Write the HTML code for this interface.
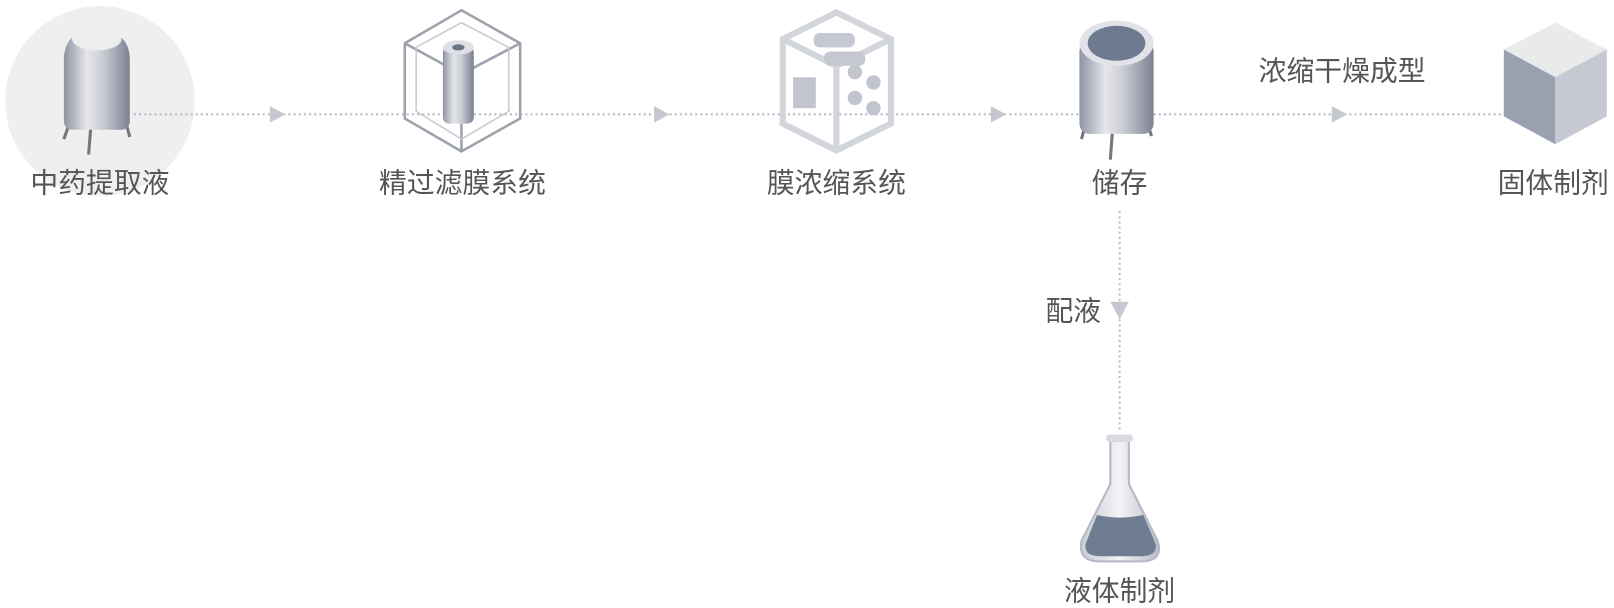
<!DOCTYPE html>
<html><head><meta charset="utf-8"><style>
body{margin:0;width:1614px;height:606px;background:#fff;overflow:hidden;position:relative;font-family:"Liberation Sans","Noto Sans CJK SC",sans-serif;color:#555}
#w{position:absolute;left:0;top:0;width:1568px;height:590px;transform:scale(1.03);transform-origin:0 0}
.l{position:absolute;font-size:27px;white-space:nowrap;transform:translateX(-50%);line-height:1}
</style></head><body><div id="w">
<svg width="1568" height="590" style="position:absolute;left:0;top:0">
<defs>
<linearGradient id="m" x1="0" x2="1"><stop offset="0" stop-color="#8e93a2"/><stop offset=".35" stop-color="#e6e7ec"/><stop offset=".6" stop-color="#c9cbd3"/><stop offset="1" stop-color="#7c8192"/></linearGradient>
<linearGradient id="f" x1="0" x2="1"><stop offset="0" stop-color="#c9ccd5"/><stop offset=".5" stop-color="#f2f3f5"/><stop offset="1" stop-color="#b9bcc7"/></linearGradient>
</defs>
<circle cx="97" cy="98" r="92" fill="#efefef"/>
<g stroke="#b8bcc6" stroke-width="2" stroke-dasharray="2 3">
<line x1="130" y1="111" x2="1500" y2="111"/>
<line x1="1087" y1="205" x2="1087" y2="420"/>
</g>
<g fill="#c5c8d0">
<polygon points="262,103 277,111 262,119"/><polygon points="635,103 650,111 635,119"/>
<polygon points="962,103 977,111 962,119"/><polygon points="1293,103 1308,111 1293,119"/>
<polygon points="1078,293 1096,293 1087,310"/>
</g>
<!-- tank 1 -->
<g><line x1="68" y1="118" x2="62" y2="135" stroke="#777" stroke-width="3"/><line x1="88" y1="125" x2="86" y2="150" stroke="#777" stroke-width="3"/><line x1="122" y1="118" x2="126" y2="133" stroke="#777" stroke-width="3"/>
<rect x="62" y="50" width="64" height="76" rx="8" fill="url(#m)"/>
<path d="M62,58 Q62,30 94,28 Q126,30 126,58 Z" fill="url(#m)"/>
<ellipse cx="94" cy="38" rx="24" ry="11" fill="#ededf0"/></g>
<!-- filter cube -->
<g fill="none" stroke="#9ea2ad" stroke-width="2.5"><polygon points="448,10 505,42 505,115 448,147 393,115 393,42"/><polyline points="393,42 448,72 505,42"/><line x1="448" y1="72" x2="448" y2="147"/>
<polygon points="448,22 494,46 494,108 448,135 404,108 404,46" stroke="#c7cad2" stroke-width="1.5"/></g>
<rect x="430" y="45" width="30" height="75" rx="6" fill="url(#m)"/><ellipse cx="445" cy="46" rx="15" ry="7" fill="#dfe1e6"/><ellipse cx="445" cy="46" rx="6" ry="3" fill="#6b7386"/>
<!-- membrane frame -->
<g fill="none" stroke="#d2d5dc" stroke-width="6"><polygon points="812,12 865,38 865,120 812,146 760,120 760,38"/><polyline points="760,38 812,64 865,38"/><line x1="812" y1="64" x2="812" y2="146"/></g>
<rect x="790" y="32" width="40" height="14" rx="6" fill="#c5c8d0"/><rect x="800" y="50" width="40" height="14" rx="6" fill="#c5c8d0"/>
<rect x="770" y="75" width="22" height="30" fill="#c2c5cd"/>
<g fill="#c2c5cd"><circle cx="830" cy="70" r="7"/><circle cx="848" cy="80" r="7"/><circle cx="830" cy="95" r="7"/><circle cx="848" cy="105" r="7"/></g>
<!-- storage tank -->
<g><line x1="1054" y1="120" x2="1050" y2="135" stroke="#777" stroke-width="3"/><line x1="1080" y1="128" x2="1078" y2="155" stroke="#777" stroke-width="3"/><line x1="1114" y1="120" x2="1118" y2="132" stroke="#777" stroke-width="3"/>
<rect x="1048" y="40" width="72" height="90" rx="10" fill="url(#m)"/>
<ellipse cx="1084" cy="42" rx="36" ry="22" fill="#e1e3e8"/><ellipse cx="1084" cy="42" rx="28" ry="17" fill="#6e7a90"/></g>
<!-- solid cube -->
<polygon points="1510,22 1560,48 1510,75 1460,48" fill="#e9eaec"/><polygon points="1460,48 1510,75 1510,140 1460,113" fill="#99a0b0"/><polygon points="1510,75 1560,48 1560,113 1510,140" fill="#c6c9d1"/>
<!-- flask -->
<path d="M1078,428 L1078,470 L1050,525 Q1046,545 1068,545 L1108,545 Q1130,545 1124,525 L1096,470 L1096,428 Z" fill="url(#f)" stroke="#b5b9c3" stroke-width="2"/>
<path d="M1065,500 Q1087,505 1110,500 L1122,528 Q1124,540 1108,540 L1068,540 Q1052,540 1054,528 Z" fill="#6f7d92"/>
<rect x="1074" y="422" width="26" height="7" rx="3" fill="#d9dbe0"/>
</svg>
<div class="l" style="left:97px;top:165px">中药提取液</div>
<div class="l" style="left:449px;top:165px">精过滤膜系统</div>
<div class="l" style="left:812px;top:165px">膜浓缩系统</div>
<div class="l" style="left:1087px;top:165px">储存</div>
<div class="l" style="left:1508px;top:165px">固体制剂</div>
<div class="l" style="left:1303px;top:56px">浓缩干燥成型</div>
<div class="l" style="left:1042px;top:289px">配液</div>
<div class="l" style="left:1087px;top:561px">液体制剂</div>
</div></body></html>
